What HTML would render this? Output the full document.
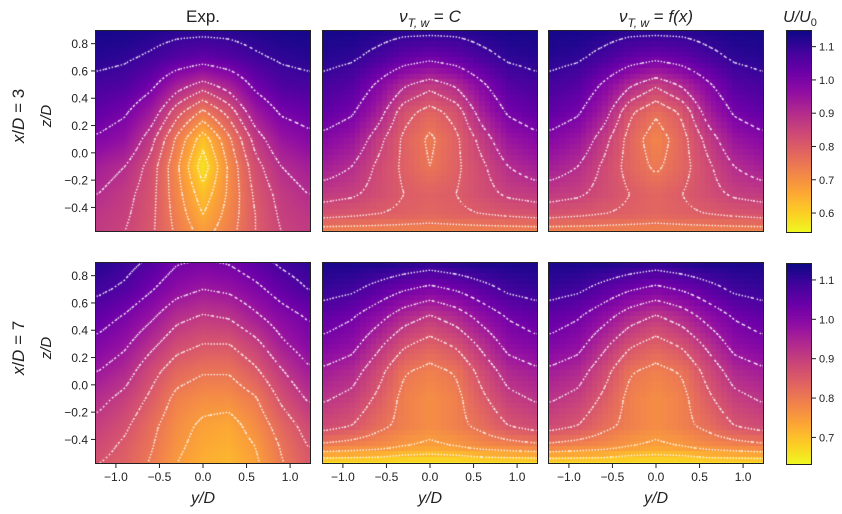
<!DOCTYPE html>
<html><head><meta charset="utf-8">
<style>
body{margin:0;background:#fff;width:842px;height:514px;overflow:hidden;position:relative;font-family:"Liberation Sans","DejaVu Sans",sans-serif;}
canvas{position:absolute;}
svg{position:absolute;left:0;top:0;}
</style></head>
<body>
<div id="root"></div>
<svg id="ov" width="842" height="514"></svg>
<script>
// ---- data ----
const yCoords = [-1.2,-0.9,-0.6,-0.3,0,0.3,0.6,0.9,1.2];
const zCoords = [0.9,0.7,0.5,0.3,0.1,-0.1,-0.3,-0.45,-0.58];
const exp3 = [
[1.14,1.14,1.13,1.12,1.12,1.12,1.13,1.14,1.14],
[1.12,1.11,1.09,1.06,1.04,1.06,1.09,1.11,1.12],
[1.08,1.07,1.02,0.93,0.88,0.93,1.02,1.07,1.08],
[1.04,1.01,0.94,0.82,0.74,0.82,0.94,1.01,1.03],
[0.99,0.96,0.87,0.74,0.62,0.74,0.87,0.95,0.98],
[0.93,0.90,0.83,0.71,0.57,0.71,0.83,0.90,0.93],
[0.90,0.87,0.82,0.72,0.62,0.71,0.81,0.87,0.90],
[0.88,0.86,0.815,0.73,0.65,0.72,0.80,0.86,0.88],
[0.87,0.85,0.81,0.74,0.68,0.73,0.80,0.85,0.87]];
const modelC3 = [
[1.14,1.14,1.13,1.12,1.12,1.12,1.13,1.14,1.14],
[1.12,1.11,1.08,1.04,1.02,1.04,1.08,1.11,1.12],
[1.08,1.06,0.99,0.91,0.87,0.91,0.99,1.06,1.08],
[1.04,1.01,0.93,0.82,0.78,0.82,0.93,1.01,1.04],
[0.98,0.95,0.87,0.79,0.74,0.79,0.87,0.95,0.98],
[0.93,0.90,0.84,0.79,0.75,0.79,0.84,0.90,0.93],
[0.87,0.86,0.83,0.80,0.79,0.80,0.83,0.86,0.87],
[0.82,0.81,0.80,0.79,0.78,0.79,0.80,0.81,0.82],
[0.72,0.72,0.72,0.72,0.72,0.72,0.72,0.72,0.72]];
const modelF3 = [
[1.14,1.14,1.13,1.12,1.12,1.12,1.13,1.14,1.14],
[1.12,1.11,1.08,1.04,1.02,1.04,1.08,1.11,1.12],
[1.08,1.06,0.99,0.91,0.86,0.91,0.99,1.06,1.08],
[1.04,1.01,0.93,0.81,0.76,0.81,0.93,1.01,1.04],
[0.98,0.95,0.87,0.78,0.72,0.78,0.87,0.95,0.98],
[0.93,0.90,0.84,0.78,0.74,0.78,0.84,0.90,0.93],
[0.87,0.86,0.83,0.80,0.78,0.80,0.83,0.86,0.87],
[0.82,0.81,0.80,0.79,0.78,0.79,0.80,0.81,0.82],
[0.72,0.72,0.72,0.72,0.72,0.72,0.72,0.72,0.72]];
const exp7 = [
[1.12,1.10,1.07,1.03,1.02,1.03,1.06,1.09,1.11],
[1.09,1.07,1.03,0.99,0.97,0.98,1.01,1.05,1.08],
[1.05,1.02,0.98,0.93,0.91,0.92,0.96,1.00,1.03],
[1.01,0.98,0.93,0.88,0.86,0.86,0.90,0.96,1.00],
[0.97,0.94,0.88,0.83,0.81,0.81,0.85,0.91,0.96],
[0.93,0.90,0.85,0.79,0.77,0.77,0.80,0.87,0.92],
[0.90,0.87,0.82,0.77,0.74,0.73,0.77,0.83,0.88],
[0.88,0.85,0.81,0.76,0.73,0.72,0.75,0.81,0.86],
[0.86,0.84,0.80,0.75,0.72,0.71,0.74,0.80,0.85]];
const modelC7 = [
[1.13,1.13,1.13,1.12,1.11,1.12,1.13,1.13,1.13],
[1.10,1.09,1.06,1.03,1.01,1.03,1.06,1.09,1.10],
[1.05,1.03,0.99,0.94,0.91,0.94,0.99,1.03,1.05],
[1.01,0.99,0.93,0.87,0.84,0.87,0.93,0.99,1.01],
[0.96,0.94,0.88,0.81,0.79,0.81,0.88,0.94,0.96],
[0.92,0.90,0.85,0.79,0.77,0.79,0.85,0.90,0.92],
[0.88,0.86,0.82,0.79,0.77,0.79,0.82,0.86,0.88],
[0.79,0.78,0.77,0.75,0.74,0.75,0.77,0.78,0.79],
[0.655,0.655,0.655,0.65,0.65,0.65,0.655,0.655,0.655]];
const modelF7 = [
[1.13,1.13,1.13,1.12,1.11,1.12,1.13,1.13,1.13],
[1.10,1.09,1.06,1.03,1.01,1.03,1.06,1.09,1.10],
[1.05,1.03,0.99,0.94,0.91,0.94,0.99,1.03,1.05],
[1.01,0.99,0.93,0.87,0.84,0.87,0.93,0.99,1.01],
[0.96,0.94,0.88,0.81,0.79,0.81,0.88,0.94,0.96],
[0.92,0.90,0.85,0.79,0.77,0.79,0.85,0.90,0.92],
[0.88,0.86,0.82,0.79,0.77,0.79,0.82,0.86,0.88],
[0.79,0.78,0.77,0.75,0.74,0.75,0.77,0.78,0.79],
[0.66,0.66,0.66,0.655,0.655,0.655,0.66,0.66,0.66]];
const levels3 = [0.6,0.65,0.7,0.75,0.8,0.85,0.9,1.0,1.1];
const levels7 = [0.7,0.75,0.805,0.86,0.915,0.97,1.025,1.08];
const cbar3Range = [0.54,1.15];
const cbar7Range = [0.63,1.143];
const cbar3Ticks = [0.6,0.7,0.8,0.9,1.0,1.1];
const cbar7Ticks = [0.7,0.8,0.9,1.0,1.1];
const xTicks = [-1.0,-0.5,0.0,0.5,1.0];
const zTicks = [0.8,0.6,0.4,0.2,0.0,-0.2,-0.4];

// ---- layout ----
const colX = [95,322,548], PW = 216;
const rowY = [30,262], PH = 202;
const XMIN=-1.24, XMAX=1.24, ZMIN=-0.58, ZMAX=0.9;
function sx(c,v){return colX[c]+(v-XMIN)/(XMAX-XMIN)*PW;}
function sy(r,v){return rowY[r]+(ZMAX-v)/(ZMAX-ZMIN)*PH;}

const stops=["#0d0887","#41049d","#6a00a8","#8f0da4","#b12a90","#cc4778","#e16462","#f2844b","#fca636","#fcce25","#f0f921"].map(h=>[parseInt(h.substr(1,2),16),parseInt(h.substr(3,2),16),parseInt(h.substr(5,2),16)]);
function plasma(t){t=Math.max(0,Math.min(1,t));const f=t*10,i=Math.min(9,Math.floor(f)),u=f-i;const a=stops[i],b=stops[i+1];return [a[0]+(b[0]-a[0])*u,a[1]+(b[1]-a[1])*u,a[2]+(b[2]-a[2])*u];}
function cmap(v,rng){return plasma(1-(v-rng[0])/(rng[1]-rng[0]));}
function segIdx(arr,v,desc){
  for(let i=0;i<arr.length-1;i++){const a=arr[i],b=arr[i+1];const lo=Math.min(a,b),hi=Math.max(a,b);if(v>=lo&&v<=hi){return [i,(v-a)/(b-a)];}}
  return v<Math.min(arr[0],arr[arr.length-1])?(desc?[arr.length-2,1]:[0,0]):(desc?[0,0]:[arr.length-2,1]);
}
function field(g,y,z){
  const [i,u]=segIdx(yCoords,Math.max(-1.2,Math.min(1.2,y)),false);
  const [j,w]=segIdx(zCoords,Math.max(-0.58,Math.min(0.9,z)),true);
  const a=g[j][i],b=g[j][i+1],c=g[j+1][i],d=g[j+1][i+1];
  return (a*(1-u)+b*u)*(1-w)+(c*(1-u)+d*u)*w;
}
const ov=document.getElementById('ov');
const NS="http://www.w3.org/2000/svg";
function el(tag,attrs,txt){const e=document.createElementNS(NS,tag);for(const k in attrs)e.setAttribute(k,attrs[k]);if(txt!==undefined)e.textContent=txt;ov.appendChild(e);return e;}

const panels=[[exp3,0,0,levels3,cbar3Range,false,'panel-exp-x3'],[modelC3,0,1,levels3,cbar3Range,true,'panel-c-x3'],[modelF3,0,2,levels3,cbar3Range,true,'panel-f-x3'],
[exp7,1,0,levels7,cbar7Range,false,'panel-exp-x7'],[modelC7,1,1,levels7,cbar7Range,true,'panel-c-x7'],[modelF7,1,2,levels7,cbar7Range,true,'panel-f-x7']];
panels.forEach(([g,r,c,lv,rng,blocky,nm])=>{
  const cv=document.createElement('canvas');cv.width=PW;cv.height=PH;
  cv.style.left=colX[c]+'px';cv.style.top=rowY[r]+'px';
  
  
  document.body.insertBefore(cv,ov);
  const ctx=cv.getContext('2d');const img=ctx.createImageData(PW,PH);
  const bs=blocky?5.4:2;
  for(let py=0;py<PH;py++)for(let px=0;px<PW;px++){
    const qx=(Math.floor(px/bs)+0.5)*bs, qy=(Math.floor(py/bs)+0.5)*bs;
    const yv=XMIN+qx/PW*(XMAX-XMIN), zv=ZMAX-qy/PH*(ZMAX-ZMIN);
    const v=field(g,yv,zv);const col=cmap(v,rng);
    const k=(py*PW+px)*4;img.data[k]=col[0];img.data[k+1]=col[1];img.data[k+2]=col[2];img.data[k+3]=255;}
  ctx.putImageData(img,0,0);
  const st=3,nx=Math.floor(PW/st)+1,ny=Math.floor(PH/st)+1;const F=[];
  for(let j=0;j<ny;j++){F[j]=[];for(let i=0;i<nx;i++){F[j][i]=field(g,XMIN+i*st/PW*(XMAX-XMIN),ZMAX-j*st/PH*(ZMAX-ZMIN));}}
  ctx.strokeStyle='rgba(255,255,255,0.95)';ctx.lineWidth=1.4;ctx.setLineDash([1.4,2.6]);
  lv.forEach(L=>{ctx.beginPath();
    for(let j=0;j<ny-1;j++)for(let i=0;i<nx-1;i++){
      const v=[F[j][i],F[j][i+1],F[j+1][i+1],F[j+1][i]];
      const P=[[i,j],[i+1,j],[i+1,j+1],[i,j+1]];const pts=[];
      for(let e=0;e<4;e++){const a=v[e],b=v[(e+1)%4];if((a-L)*(b-L)<0){const t=(L-a)/(b-a);const p=P[e],q=P[(e+1)%4];pts.push([(p[0]+(q[0]-p[0])*t)*st,(p[1]+(q[1]-p[1])*t)*st]);}}
      if(pts.length>=2){ctx.moveTo(pts[0][0],pts[0][1]);ctx.lineTo(pts[1][0],pts[1][1]);}
      if(pts.length===4){ctx.moveTo(pts[2][0],pts[2][1]);ctx.lineTo(pts[3][0],pts[3][1]);}
    }ctx.stroke();});
  el('rect',{x:colX[c]+0.5,y:rowY[r]+0.5,width:PW-1,height:PH-1,fill:'none',stroke:'#222','stroke-width':1,});
});
[0,1].forEach(r=>{zTicks.forEach(t=>{const y=sy(r,t);
  el('line',{x1:colX[0]-4,x2:colX[0],y1:y,y2:y,stroke:'#222',});
  el('text',{x:colX[0]-7,y:y+4.5,'text-anchor':'end','font-size':12,fill:'#222',},(t<0?'\u2212':'')+Math.abs(t).toFixed(1));});
  el('text',{transform:`translate(51,${rowY[r]+PH/2-15}) rotate(-90)`,'text-anchor':'middle','font-size':15,'font-style':'italic',fill:'#222',},'z/D');
  const rl=el('text',{transform:`translate(24,${rowY[r]+PH/2-15}) rotate(-90)`,'text-anchor':'middle','font-size':17,fill:'#222',});
  rl.innerHTML=`<tspan font-style="italic">x</tspan>/<tspan font-style="italic">D</tspan> = ${r===0?3:7}`;
});
[0,1,2].forEach(c=>{xTicks.forEach(t=>{const x=sx(c,t);const yb=rowY[1]+PH;
  el('line',{x1:x,x2:x,y1:yb,y2:yb+4,stroke:'#222',});
  el('text',{x:x,y:yb+17,'text-anchor':'middle','font-size':12,fill:'#222',},(t<0?'\u2212':'')+Math.abs(t).toFixed(1));});
  el('text',{x:colX[c]+PW/2,y:503,'text-anchor':'middle','font-size':16,'font-style':'italic',fill:'#222',},'y/D');
});
el('text',{x:colX[0]+PW/2,y:22,'text-anchor':'middle','font-size':17,fill:'#222',},'Exp.');
[['C','title-const'],['f(x)','title-fx']].forEach(([s,n],k)=>{
  const t=el('text',{x:colX[k+1]+PW/2,y:22,'text-anchor':'middle','font-size':17,fill:'#222',});
  t.innerHTML=`<tspan font-style="italic">ν</tspan><tspan font-size="12" dy="5" font-style="italic">T, w</tspan><tspan dy="-5"> = </tspan><tspan font-style="italic">${s}</tspan>`;
});
const ct=el('text',{x:800,y:22,'text-anchor':'middle','font-size':16,'font-style':'italic',fill:'#222',});
ct.innerHTML='U/U<tspan font-size="11" dy="4" font-style="normal">0</tspan>';
[[0,cbar3Range,cbar3Ticks,30,203],[1,cbar7Range,cbar7Ticks,263,202]].forEach(([r,rng,ticks,top,h])=>{
  const cv=document.createElement('canvas');cv.width=26;cv.height=h;cv.style.left='786px';cv.style.top=top+'px';
  
  
  document.body.insertBefore(cv,ov);const ctx=cv.getContext('2d');
  for(let py=0;py<h;py++){const col=plasma(py/(h-1));ctx.fillStyle=`rgb(${col[0]|0},${col[1]|0},${col[2]|0})`;ctx.fillRect(0,py,26,1);}
  el('rect',{x:786.5,y:top+0.5,width:25,height:h-1,fill:'none',stroke:'#222',});
  ticks.forEach(t=>{const y=top+(rng[1]-t)/(rng[1]-rng[0])*h;
    el('line',{x1:812,x2:816,y1:y,y2:y,stroke:'#222',});
    el('text',{x:819,y:y+4,'font-size':11,fill:'#222',},t.toFixed(1));});
});
</script>
</body></html>
